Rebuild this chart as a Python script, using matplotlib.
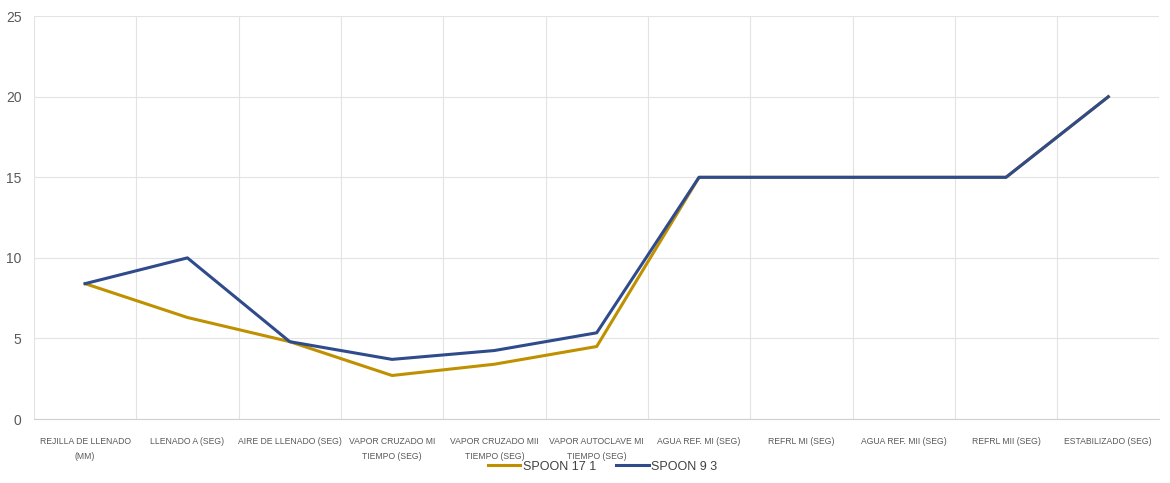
import numpy as np
import matplotlib.pyplot as plt
from matplotlib.ticker import FixedLocator

plt.rcParams['font.family'] = ['Liberation Sans Narrow', 'Liberation Sans', 'DejaVu Sans']

categorias = ['REJILLA DE LLENADO\n(MM)', 'LLENADO A (SEG)', 'AIRE DE LLENADO (SEG)',
              'VAPOR CRUZADO MI\nTIEMPO (SEG)', 'VAPOR CRUZADO MII\nTIEMPO (SEG)',
              'VAPOR AUTOCLAVE MI\nTIEMPO (SEG)', 'AGUA REF. MI (SEG)', 'REFRL MI (SEG)',
              'AGUA REF. MII (SEG)', 'REFRL MII (SEG)', 'ESTABILIZADO (SEG)']
spoon_17_1 = [8.4, 6.3, 4.8, 2.7, 3.4, 4.5, 15, 15, 15, 15, 20]
spoon_9_3 = [8.4, 10, 4.8, 3.7, 4.25, 5.35, 15, 15, 15, 15, 20]

fig = plt.figure(figsize=(11.7, 4.83), dpi=100)
ax = fig.add_axes([0.029, 0.1325, 0.962, 0.834])

x = np.arange(len(categorias))
ax.plot(x, spoon_17_1, color='#BF9000', lw=2.2, label='SPOON 17 1')
ax.plot(x, spoon_9_3, color='#2F4B8C', lw=2.2, label='SPOON 9 3')

ax.set_xlim(-0.5, len(categorias) - 0.5)
ax.set_ylim(0, 25)
ax.set_yticks([0, 5, 10, 15, 20, 25])
ax.set_xticks(x)
ax.set_xticklabels(categorias, fontsize=6.2, color='#595959', linespacing=1.9)
ax.xaxis.set_minor_locator(FixedLocator(np.arange(-0.5, len(categorias), 1)))
ax.grid(which='minor', axis='x', color='#E3E3E3', lw=0.8)
ax.grid(which='major', axis='y', color='#E3E3E3', lw=0.8)
ax.tick_params(which='both', length=0)
ax.tick_params(axis='y', labelsize=10, colors='#595959', pad=9)
ax.tick_params(axis='x', pad=13)
ax.set_axisbelow(True)
for s in ['top', 'right', 'left']:
    ax.spines[s].set_visible(False)
ax.spines['bottom'].set_color('#D0D0D0')

leg = fig.legend(loc='lower center', bbox_to_anchor=(0.515, -0.002), ncol=2, frameon=False,
                 fontsize=9, handlelength=2.6, handletextpad=0.2, columnspacing=1.6)
for t in leg.get_texts():
    t.set_color('#404040')

fig.savefig('out.png', dpi=100)
